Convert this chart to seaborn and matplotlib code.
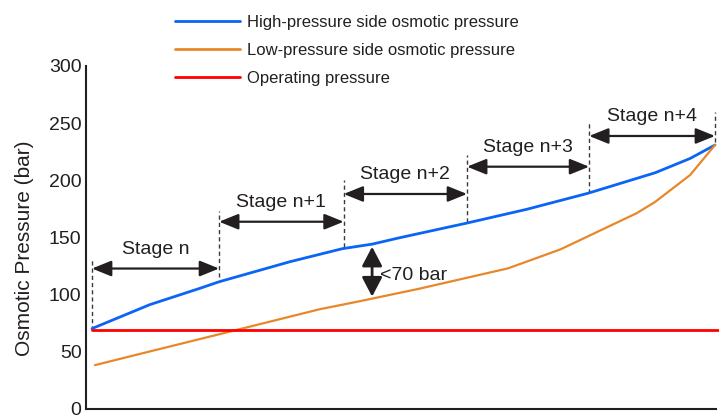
import matplotlib
matplotlib.use("Agg")
import matplotlib.pyplot as plt
import seaborn as sns
import pandas as pd

# ---------------- data (x in "stage" units, y in bar) ----------------
high_x = [0, 0.465, 0.867, 1.02, 1.59, 2.01, 2.25, 2.47, 3.0, 3.49, 3.98, 4.52, 4.80, 5.0]
high_y = [70, 91, 105.3, 111, 128.6, 140, 144, 149.6, 162.2, 174.5, 188.5, 206.5, 219, 230.8]

low_x = [0.024, 0.465, 1.02, 1.83, 2.15, 2.63, 3.34, 3.76, 4.37, 4.52, 4.80, 5.0]
low_y = [38, 50, 65, 87, 94, 105, 122.8, 139.4, 171, 181, 204.5, 230.8]

op_x = [0, 5.032]
op_y = [69, 69]

series_names = ["High-pressure side osmotic pressure",
                "Low-pressure side osmotic pressure",
                "Operating pressure"]

stage_labels = ["Stage n", "Stage n+1", "Stage n+2", "Stage n+3", "Stage n+4"]
stage_bounds = [0, 1.02, 2.02, 3.01, 3.99, 5.0]
stage_arrow_y = [122.6, 163.6, 187.9, 211.8, 238.7]
dash_top = [130, 173, 200, 222, 251, 260]
dash_bottom = [68.8, 115, 141.5, 163, 188.8, 233]

gap_x = 2.248
gap_y = [141.7, 98]
gap_label = "<70 bar"
gap_label_pos = (2.315, 112.6)

yticks = [0, 50, 100, 150, 200, 250, 300]
ylabel = "Osmotic Pressure (bar)"

# ---------------- style ----------------
sns.set_style("white")
plt.rcParams["font.family"] = ["Liberation Sans", "DejaVu Sans"]
ink = "#231f20"
colors = ["#0a64f5", "#e8872a", "#ff0000"]
widths = [2.0, 1.6, 2.0]

fig = plt.figure(figsize=(7.2, 4.15), dpi=100)
ax = fig.add_axes([86 / 720, 1 - 408.5 / 415, (719 - 86) / 720, 342.5 / 415])

frames = [
    pd.DataFrame({"x": high_x, "y": high_y}),
    pd.DataFrame({"x": low_x, "y": low_y}),
    pd.DataFrame({"x": op_x, "y": op_y}),
]
for df, name, c, w in zip(frames, series_names, colors, widths):
    sns.lineplot(data=df, x="x", y="y", ax=ax, color=c, linewidth=w,
                 sort=False, label=name, legend=False, zorder=3)

# stage boundary dashed lines
for xb, t, b in zip(stage_bounds, dash_top, dash_bottom):
    ax.plot([xb, xb], [b, t], color="#3a3a3a", lw=1.0,
            linestyle=(0, (3, 2.2)), zorder=2, clip_on=False)

# stage arrows + labels
for i, lab in enumerate(stage_labels):
    x0, x1 = stage_bounds[i], stage_bounds[i + 1]
    y = stage_arrow_y[i]
    ax.annotate("", xy=(x1, y), xytext=(x0, y),
                arrowprops=dict(arrowstyle="<|-|>,head_length=0.42,head_width=0.17",
                                mutation_scale=28, color=ink, lw=1.6,
                                shrinkA=0, shrinkB=0), zorder=4)
    ax.annotate(lab, xy=((x0 + x1) / 2, y), xytext=(0, 10.8),
                textcoords="offset points", ha="center", va="baseline",
                fontsize=14, color=ink)

# gap arrow
ax.annotate("", xy=(gap_x, gap_y[1]), xytext=(gap_x, gap_y[0]),
            arrowprops=dict(arrowstyle="<|-|>,head_length=0.42,head_width=0.22",
                            mutation_scale=28, color=ink, lw=2.0,
                            shrinkA=0, shrinkB=0), zorder=4)
ax.text(gap_label_pos[0], gap_label_pos[1], gap_label, ha="left", va="baseline",
        fontsize=14, color=ink)

# axes
ax.set_xlim(-0.048, 5.032)
ax.set_ylim(0, 300)
ax.set_xticks([])
ax.set_yticks(yticks)
ax.set_yticklabels([str(v) for v in yticks])
ax.tick_params(axis="y", length=0, pad=3.2, labelsize=14, labelcolor=ink)
ax.set_xlabel("")
ax.set_ylabel(ylabel, fontsize=15, color=ink)
ax.yaxis.set_label_coords((34 - 86) / 633, (408.5 - 248) / 342.5)
for s in ["top", "right"]:
    ax.spines[s].set_visible(False)
for s in ["left", "bottom"]:
    ax.spines[s].set_color(ink)
    ax.spines[s].set_linewidth(1.5)
ax.spines["bottom"].set_bounds(-0.048, 5.01)

handles = ax.get_lines()[:3]
leg = ax.legend(handles, series_names, loc="upper left",
                bbox_to_anchor=(175 / 720, 1 - 14.5 / 415), bbox_transform=fig.transFigure,
                frameon=False, fontsize=12, handlelength=3.9, handletextpad=0.43,
                labelspacing=0.78, borderpad=0, borderaxespad=0)
for t in leg.get_texts():
    t.set_color(ink)
for h in leg.legend_handles:
    h.set_linewidth(2.0)

fig.savefig("out.png", dpi=100)
